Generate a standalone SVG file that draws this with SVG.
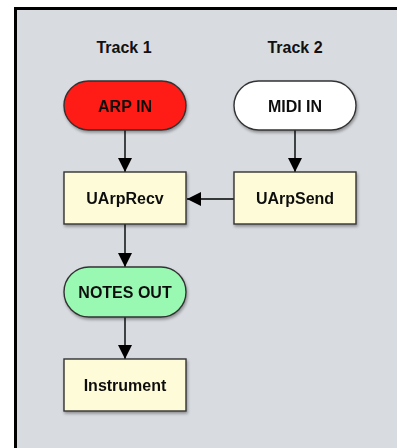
<svg xmlns="http://www.w3.org/2000/svg" width="397" height="448" viewBox="0 0 397 448">
<defs>
<style>
.t{font-family:"Liberation Sans",Arial,sans-serif;font-weight:bold;font-size:16px;fill:#111;text-anchor:middle}
.n{stroke:#333;stroke-width:1.4}
.box{fill:#fefcd8}
.c{stroke:#000;stroke-width:1.4;fill:none}
</style>
<filter id="sh" x="-20%" y="-20%" width="140%" height="150%">
<feGaussianBlur in="SourceAlpha" stdDeviation="1.5"/>
<feOffset dx="1" dy="2" result="b"/>
<feComponentTransfer><feFuncA type="linear" slope="0.35"/></feComponentTransfer>
<feMerge><feMergeNode/><feMergeNode in="SourceGraphic"/></feMerge>
</filter>
<marker id="ah" markerWidth="14" markerHeight="14" viewBox="0 0 14 14" refX="14" refY="7" orient="auto" markerUnits="userSpaceOnUse">
<path d="M0,0 L14,7 L0,14 Z" fill="#000"/>
</marker>
</defs>
<rect width="397" height="448" fill="#fff"/>
<rect x="15.5" y="8.5" width="400" height="460" fill="#d8dbe0" stroke="#000" stroke-width="3"/>
<text class="t" x="124" y="53">Track 1</text>
<text class="t" x="295" y="53">Track 2</text>
<g id="connectors">
<line class="c" x1="125" y1="130" x2="125" y2="172" marker-end="url(#ah)"/>
<line class="c" x1="295" y1="130" x2="295" y2="172" marker-end="url(#ah)"/>
<line class="c" x1="234" y1="199" x2="187" y2="199" marker-end="url(#ah)"/>
<line class="c" x1="125" y1="224" x2="125" y2="267" marker-end="url(#ah)"/>
<line class="c" x1="125" y1="317" x2="125" y2="359" marker-end="url(#ah)"/>
</g>
<g id="arp-in" filter="url(#sh)">
<rect class="n" x="64" y="81" width="122" height="49" rx="24.5" fill="#ff1a12"/>
<text class="t" x="125" y="111.5">ARP IN</text>
</g>
<g id="midi-in" filter="url(#sh)">
<rect class="n" x="234" y="81" width="122" height="49" rx="24.5" fill="#fff"/>
<text class="t" x="295" y="111.5">MIDI IN</text>
</g>
<g id="uarprecv" filter="url(#sh)">
<rect class="n box" x="64" y="172" width="122" height="52"/>
<text class="t" x="125" y="204">UArpRecv</text>
</g>
<g id="uarpsend" filter="url(#sh)">
<rect class="n box" x="234" y="172" width="122" height="52"/>
<text class="t" x="295" y="204">UArpSend</text>
</g>
<g id="notes-out" filter="url(#sh)">
<rect class="n" x="64" y="267" width="122" height="50" rx="25" fill="#99f9b3"/>
<text class="t" x="125" y="298">NOTES OUT</text>
</g>
<g id="instrument" filter="url(#sh)">
<rect class="n box" x="64" y="359" width="122" height="52"/>
<text class="t" x="125" y="391">Instrument</text>
</g>
</svg>
